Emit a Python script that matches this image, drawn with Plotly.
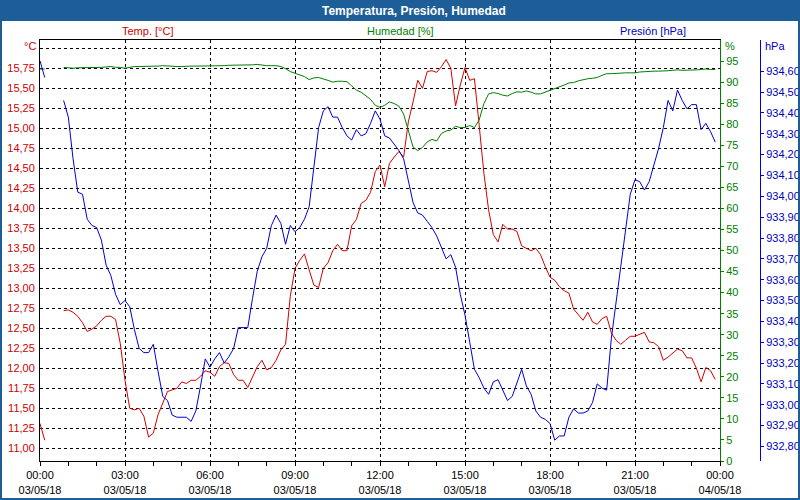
import pandas as pd
import plotly.graph_objects as go

# ---------------- data (10-minute readings, 03/05/18) ----------------
times = pd.date_range("2018-05-03 00:00", periods=144, freq="10min")

temp_c = [
    11.31, 11.10, None, None, None, 12.72, 12.73, 12.70, 12.65, 12.57, 12.46, 12.49,
    12.53, 12.60, 12.65, 12.65, 12.61, 12.31, 11.85, 11.50, 11.48, 11.50, 11.40, 11.14,
    11.19, 11.42, 11.56, 11.71, 11.73, 11.75, 11.83, 11.81, 11.85, 11.85, 11.90, 11.97,
    11.95, 11.90, 12.02, 12.07, 12.06, 11.92, 11.85, 11.85, 11.76, 11.90, 12.02, 12.10,
    11.98, 12.01, 12.10, 12.23, 12.30, 12.90, 13.25, 13.35, 13.43, 13.23, 13.04, 13.01,
    13.25, 13.32, 13.47, 13.55, 13.47, 13.47, 13.78, 13.86, 14.06, 14.10, 14.20, 14.46,
    14.54, 14.27, 14.56, 14.64, 14.71, 14.64, 15.08, 15.33, 15.60, 15.50, 15.71, 15.72,
    15.70, 15.77, 15.86, 15.75, 15.28, 15.54, 15.76, 15.60, 15.62, 15.04, 14.44, 13.98,
    13.67, 13.58, 13.80, 13.74, 13.74, 13.71, 13.53, 13.50, 13.47, 13.50, 13.42, 13.27,
    13.14, 13.10, 13.02, 12.97, 12.94, 12.74, 12.67, 12.60, 12.70, 12.58, 12.55, 12.62,
    12.65, 12.44, 12.35, 12.30, 12.35, 12.40, 12.40, 12.43, 12.45, 12.33, 12.32, 12.27,
    12.10, 12.14, 12.19, 12.24, 12.22, 12.13, 12.13, 12.00, 11.83, 12.01, 11.97, 11.86,
]

pressure_hpa = [
    934.65, 934.57, None, None, None, 934.46, 934.38, 934.18, 934.02, 934.01, 933.89, 933.86,
    933.85, 933.79, 933.67, 933.62, 933.53, 933.48, 933.50, 933.47, 933.36, 933.27, 933.25, 933.25,
    933.29, 933.16, 933.04, 933.02, 932.95, 932.94, 932.94, 932.94, 932.92, 932.97, 933.09, 933.22,
    933.18, 933.22, 933.25, 933.20, 933.23, 933.27, 933.37, 933.37, 933.37, 933.51, 933.64, 933.71,
    933.75, 933.86, 933.91, 933.87, 933.77, 933.86, 933.83, 933.85, 933.89, 933.95, 934.14, 934.33,
    934.41, 934.43, 934.38, 934.38, 934.33, 934.29, 934.27, 934.32, 934.29, 934.30, 934.35, 934.41,
    934.37, 934.29, 934.28, 934.25, 934.22, 934.18, 934.07, 933.97, 933.92, 933.91, 933.88, 933.85,
    933.81, 933.75, 933.70, 933.72, 933.66, 933.53, 933.43, 933.30, 933.17, 933.13, 933.08, 933.05,
    933.11, 933.12, 933.07, 933.02, 933.04, 933.10, 933.17, 933.09, 933.05, 932.97, 932.94, 932.93,
    932.91, 932.83, 932.85, 932.85, 932.94, 932.98, 932.96, 932.96, 932.97, 933.01, 933.10, 933.08,
    933.07, 933.32, 933.49, 933.65, 933.82, 934.01, 934.08, 934.07, 934.03, 934.07, 934.15, 934.23,
    934.33, 934.46, 934.41, 934.51, 934.46, 934.42, 934.44, 934.44, 934.32, 934.35, 934.31, 934.26,
]

humidity_pct = [
    93.1, 93.1, None, None, None, 93.5, 93.4, 93.3, 93.4, 93.4, 93.4, 93.5,
    93.5, 93.5, 93.6, 93.7, 93.5, 93.5, 93.3, 93.5, 93.7, 93.7, 93.7, 93.7,
    93.7, 93.8, 93.9, 93.8, 93.7, 93.7, 93.7, 93.8, 93.8, 93.8, 93.8, 93.8,
    93.8, 93.8, 93.9, 93.9, 94.0, 94.0, 94.0, 94.0, 94.0, 94.1, 94.2, 94.0,
    93.9, 93.9, 93.9, 93.7, 93.2, 92.5, 92.1, 91.6, 91.3, 90.6, 91.0, 91.1,
    90.8, 90.4, 90.0, 90.2, 90.2, 90.1, 89.1, 88.1, 87.6, 86.8, 85.9, 84.5,
    84.0, 84.5, 85.3, 84.9, 84.3, 82.4, 78.8, 74.6, 73.7, 74.5, 75.8, 76.4,
    76.0, 77.8, 78.4, 78.6, 79.5, 79.2, 79.2, 79.7, 79.2, 81.0, 84.9, 87.2,
    87.5, 87.3, 86.9, 86.7, 87.3, 87.7, 87.6, 87.9, 87.6, 87.2, 87.2, 87.6,
    88.0, 88.4, 88.8, 89.3, 89.8, 89.9, 90.3, 90.6, 90.8, 90.9, 91.1, 91.6,
    92.0, 92.0, 92.1, 92.1, 92.2, 92.2, 92.2, 92.4, 92.5, 92.6, 92.6, 92.6,
    92.6, 92.7, 92.8, 92.9, 92.8, 92.8, 92.9, 92.9, 93.0, 93.1, 93.0, 93.0,
]

# ---------------- tick labels ----------------
x_tickvals = ["2018-05-03 00:00", "2018-05-03 03:00", "2018-05-03 06:00", "2018-05-03 09:00",
              "2018-05-03 12:00", "2018-05-03 15:00", "2018-05-03 18:00", "2018-05-03 21:00",
              "2018-05-04 00:00"]
x_ticktext = ["00:00<br>03/05/18", "03:00<br>03/05/18", "06:00<br>03/05/18", "09:00<br>03/05/18",
              "12:00<br>03/05/18", "15:00<br>03/05/18", "18:00<br>03/05/18", "21:00<br>03/05/18",
              "00:00<br>04/05/18"]

temp_tickvals = [11.00, 11.25, 11.50, 11.75, 12.00, 12.25, 12.50, 12.75, 13.00, 13.25, 13.50,
                 13.75, 14.00, 14.25, 14.50, 14.75, 15.00, 15.25, 15.50, 15.75, 16.00]
temp_ticktext = ["11,00", "11,25", "11,50", "11,75", "12,00", "12,25", "12,50", "12,75", "13,00",
                 "13,25", "13,50", "13,75", "14,00", "14,25", "14,50", "14,75", "15,00", "15,25",
                 "15,50", "15,75", ""]

hum_tickvals = [0, 5, 10, 15, 20, 25, 30, 35, 40, 45, 50, 55, 60, 65, 70, 75, 80, 85, 90, 95]
hum_ticktext = ["0", "5", "10", "15", "20", "25", "30", "35", "40", "45", "50", "55", "60", "65",
                "70", "75", "80", "85", "90", "95"]

pres_tickvals = [932.8, 932.9, 933.0, 933.1, 933.2, 933.3, 933.4, 933.5, 933.6, 933.7, 933.8,
                 933.9, 934.0, 934.1, 934.2, 934.3, 934.4, 934.5, 934.6]
pres_ticktext = ["932,80", "932,90", "933,00", "933,10", "933,20", "933,30", "933,40", "933,50",
                 "933,60", "933,70", "933,80", "933,90", "934,00", "934,10", "934,20", "934,30",
                 "934,40", "934,50", "934,60"]

# ---------------- styling ----------------
RED = "#d40000"
RED_TXT = "#cc0000"
GREEN = "#008000"
BLUE = "#0000d8"
BLUE_TXT = "#0000c0"
BAR = "#1e5e98"
FONT = "Liberation Sans"

W, H = 800, 500
ML, MR, MT, MB = 40, 40, 40, 39
PW = W - ML - MR
PH = H - MT - MB


def px_x(p):
    return (p - ML) / PW


def px_y(p):
    return (H - MB - p) / PH


fig = go.Figure()
fig.add_trace(go.Scatter(x=times, y=temp_c, mode="lines", line=dict(color=RED, width=1),
                         name="Temp. [°C]", yaxis="y"))
fig.add_trace(go.Scatter(x=times, y=humidity_pct, mode="lines", line=dict(color=GREEN, width=1),
                         name="Humedad [%]", yaxis="y2"))
fig.add_trace(go.Scatter(x=times, y=pressure_hpa, mode="lines", line=dict(color=BLUE, width=1),
                         name="Presión [hPa]", yaxis="y3"))

plot_right = px_x(720)

fig.update_layout(
    width=W, height=H,
    margin=dict(l=ML, r=MR, t=MT, b=MB, pad=0, autoexpand=False),
    paper_bgcolor="white", plot_bgcolor="white",
    showlegend=False, hovermode=False,
    font=dict(family=FONT, size=11, color="black"),
    xaxis=dict(
        domain=[0, plot_right], type="date", automargin=False,
        range=["2018-05-03 00:00", "2018-05-04 00:00"],
        tickmode="array", tickvals=x_tickvals, ticktext=x_ticktext,
        ticks="outside", ticklen=4, tickcolor="black", tickwidth=1,
        minor=dict(dtick=3600000, ticks="outside", ticklen=4, tickcolor="black", showgrid=False),
        showgrid=True, gridcolor="black", gridwidth=1, griddash="3px,3px",
        showline=True, linecolor="black", linewidth=1, mirror=True,
        zeroline=False, tickfont=dict(size=11, color="black"),
    ),
    yaxis=dict(
        range=[10.841, 16.104], tickmode="array", tickvals=temp_tickvals, ticktext=temp_ticktext,
        automargin=False,
        showgrid=True, gridcolor="black", gridwidth=1, griddash="3px,3px",
        showline=True, linecolor="black", linewidth=1, ticks="", zeroline=False,
        tickfont=dict(size=11, color=RED_TXT), ticklabelstandoff=2,
    ),
    yaxis2=dict(
        range=[0, 100], overlaying="y", side="right", anchor="x", automargin=False,
        tickmode="array", tickvals=hum_tickvals, ticktext=hum_ticktext,
        showgrid=False, zeroline=False, showline=True, linecolor=GREEN, linewidth=1,
        ticks="outside", ticklen=3, tickcolor=GREEN, tickfont=dict(size=11, color=GREEN),
    ),
    yaxis3=dict(
        range=[932.73, 934.75], overlaying="y", side="right", anchor="free", position=1.0,
        automargin=False,
        tickmode="array", tickvals=pres_tickvals, ticktext=pres_ticktext,
        showgrid=False, zeroline=False, showline=True, linecolor=BLUE, linewidth=1,
        ticks="outside", ticklen=3, tickcolor=BLUE, tickfont=dict(size=11, color=BLUE_TXT),
    ),
)

# frame and title bar
shapes = [
    dict(type="rect", xref="paper", yref="paper", x0=px_x(0), x1=px_x(800), y0=px_y(21), y1=px_y(0),
         fillcolor=BAR, line=dict(width=0), layer="above"),
    dict(type="rect", xref="paper", yref="paper", x0=px_x(0), x1=px_x(2), y0=px_y(500), y1=px_y(0),
         fillcolor=BAR, line=dict(width=0), layer="above"),
    dict(type="rect", xref="paper", yref="paper", x0=px_x(798), x1=px_x(800), y0=px_y(500), y1=px_y(0),
         fillcolor=BAR, line=dict(width=0), layer="above"),
    dict(type="rect", xref="paper", yref="paper", x0=px_x(0), x1=px_x(800), y0=px_y(500), y1=px_y(498),
         fillcolor=BAR, line=dict(width=0), layer="above"),
]
fig.update_layout(shapes=shapes)


def note(text, x, y, color, xanchor="center", size=11, bold=False):
    fig.add_annotation(text=f"<b>{text}</b>" if bold else text, xref="paper", yref="paper",
                       x=px_x(x), y=px_y(y), xanchor=xanchor, yanchor="middle", showarrow=False,
                       font=dict(family=FONT, size=size, color=color), borderpad=0)


note("Temperatura, Presión, Humedad", 414, 10.5, "white", size=12, bold=True)
note("Temp. [°C]", 147, 31, RED_TXT)
note("Humedad [%]", 400, 31, GREEN)
note("Presión [hPa]", 653, 31, BLUE_TXT)
note("°C", 37, 46, RED_TXT, xanchor="right")
note("%", 724, 46, GREEN, xanchor="left")
note("hPa", 764, 46, BLUE_TXT, xanchor="left")

fig.write_html(
    "out.html",
    config={"displayModeBar": False, "staticPlot": True},
    post_script="document.body.style.margin='0';document.body.style.overflow='hidden';",
)
